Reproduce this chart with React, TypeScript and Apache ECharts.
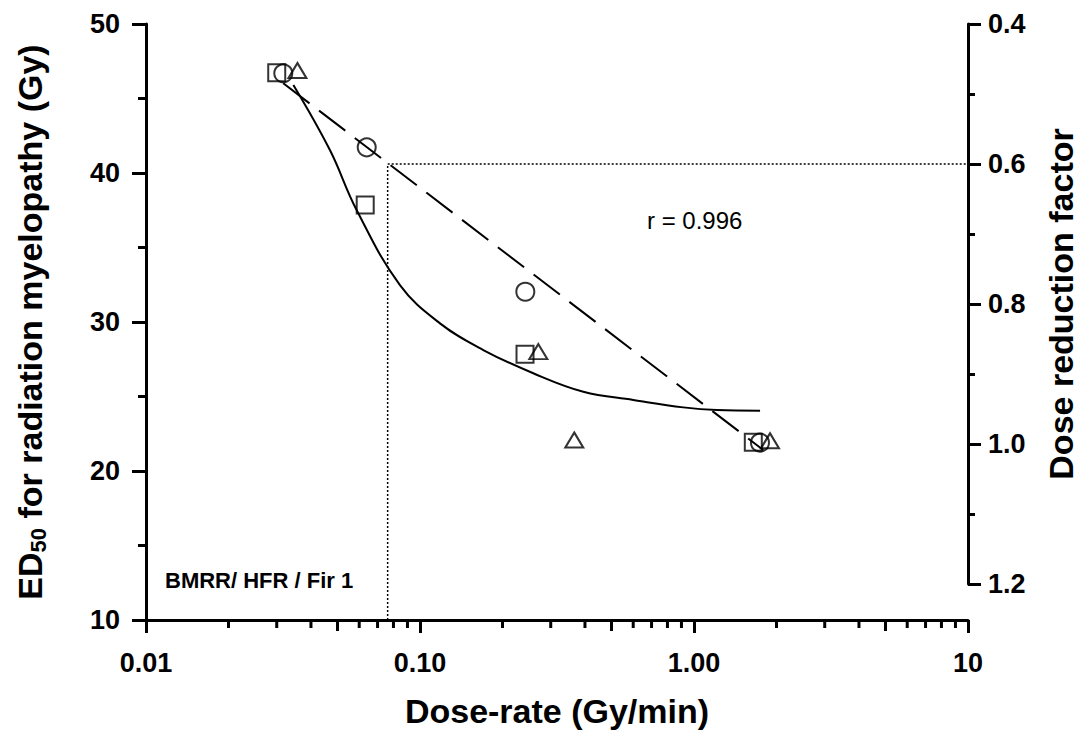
import React, { useEffect, useRef } from "react";
import * as echarts from "echarts";

// Measured ED50 values against dose-rate, three data sets (squares, circles, triangles)
const squareDoseRate = [0.03, 0.0631, 0.2417, 1.646];
const squareEd50 = [46.73, 37.85, 27.83, 21.93];
const circleDoseRate = [0.0317, 0.0639, 0.2423, 1.741];
const circleEd50 = [46.69, 41.72, 32.03, 21.9];
const triangleDoseRate = [0.0357, 0.2703, 0.3656, 1.894];
const triangleEd50 = [46.88, 28.01, 22.08, 22.03];

// Fitted curve (solid)
const curveDoseRate = [0.0345, 0.0469, 0.0587, 0.0845, 0.1183, 0.1702, 0.2591, 0.3945, 0.6004, 0.914, 1.211, 1.742];
const curveEd50 = [45.91, 41.54, 37.52, 32.48, 29.91, 28.12, 26.56, 25.32, 24.77, 24.27, 24.09, 24.05];

// Regression line (dashed), r = 0.996
const regressionDoseRate = [0.0317, 1.79];
const regressionEd50 = [46.02, 21.41];

// Dose-rate giving a dose reduction factor of 0.6
const guideDoseRate = 0.0762;
const guideEd50 = 40.6;

// Axis ranges and ticks
const xMin = 0.01;
const xMax = 10;
const yMin = 10;
const yMax = 50;
const drfMin = 0.4;
const drfMax = 1.2;
const xMinorTicks = [0.02, 0.03, 0.04, 0.06, 0.07, 0.08, 0.09, 0.2, 0.3, 0.4, 0.6, 0.7, 0.8, 0.9, 2, 3, 4, 6, 7, 8, 9];
const xMidTicks = [0.05, 0.5, 5];

const FONT = "'Liberation Sans', Arial, Helvetica, sans-serif";

const zip = (xs: number[], ys: number[]) => xs.map((x, i) => [x, ys[i]]);

export default function App() {
  const ref = useRef<HTMLDivElement>(null);

  useEffect(() => {
    if (!ref.current) return;
    const chart = echarts.init(ref.current, null, { renderer: "svg" });

    // short ticks hanging below the x axis at the given dose-rates
    const tickRenderer = (len: number) => (params: any, api: any) => {
      const p = api.coord([api.value(0), api.value(1)]);
      const cs = params.coordSys;
      const yb = cs.y + cs.height;
      return {
        type: "line",
        shape: { x1: p[0], y1: yb, x2: p[0], y2: yb + len },
        style: { stroke: "#000", lineWidth: 3 },
      };
    };

    const hollow = (symbol: string, size: any) => ({
      type: "scatter",
      symbol,
      symbolSize: size,
      itemStyle: { color: "rgba(0,0,0,0)", borderColor: "#000", borderWidth: 2 },
      z: 5,
    });

    const tickLabel = { fontFamily: FONT, fontWeight: "bold", fontSize: 27, color: "#000" };
    const titleText = { fontFamily: FONT, fontWeight: "bold", fontSize: 34, color: "#000" };

    const option: any = {
      animation: false,
      backgroundColor: "#fff",
      grid: [
        { left: 146, right: 123, top: 24, bottom: 118 },
        { left: 146, right: 123, top: 24, height: 560 },
      ],
      xAxis: [
        {
          type: "log",
          logBase: 10,
          min: xMin,
          max: xMax,
          gridIndex: 0,
          name: "Dose-rate (Gy/min)",
          nameLocation: "middle",
          nameGap: 74,
          nameTextStyle: titleText,
          axisLine: { lineStyle: { color: "#000", width: 3 } },
          axisTick: { length: 13, lineStyle: { color: "#000", width: 3 } },
          splitLine: { show: false },
          minorTick: { show: false },
          axisLabel: {
            ...tickLabel,
            margin: 29,
            formatter: (v: number) => (v >= 10 ? String(Math.round(v)) : v.toFixed(2)),
          },
        },
        { type: "log", logBase: 10, min: xMin, max: xMax, gridIndex: 1, show: false },
      ],
      yAxis: [
        {
          type: "value",
          min: yMin,
          max: yMax,
          interval: 10,
          gridIndex: 0,
          name: "{a|ED}{s|50}{a| for radiation myelopathy (Gy)}",
          nameLocation: "middle",
          nameRotate: 90,
          nameGap: 97,
          nameTextStyle: {
            rich: {
              a: { ...titleText, lineHeight: 38 },
              s: { fontFamily: FONT, fontWeight: "bold", fontSize: 22, color: "#000", lineHeight: 19, verticalAlign: "bottom" },
            },
          },
          axisLine: { show: true, lineStyle: { color: "#000", width: 3 } },
          axisTick: { show: true, length: 14, lineStyle: { color: "#000", width: 3 } },
          minorTick: { show: true, splitNumber: 2, length: 8, lineStyle: { color: "#000", width: 3 } },
          splitLine: { show: false },
          axisLabel: { ...tickLabel, margin: 26 },
        },
        {
          type: "value",
          gridIndex: 1,
          position: "right",
          inverse: true,
          min: drfMin,
          max: drfMax,
          interval: 0.2,
          name: "Dose reduction factor",
          nameLocation: "middle",
          nameRotate: 90,
          nameGap: 76,
          nameTextStyle: titleText,
          axisLine: { show: true, lineStyle: { color: "#000", width: 3 } },
          axisTick: { show: true, length: 13, lineStyle: { color: "#000", width: 3 } },
          minorTick: { show: true, splitNumber: 2, length: 7, lineStyle: { color: "#000", width: 3 } },
          splitLine: { show: false },
          axisLabel: {
            ...tickLabel,
            margin: 20,
            formatter: (v: number) => v.toFixed(1),
          },
        },
      ],
      graphic: [
        {
          type: "text",
          left: 647,
          top: 208,
          style: { text: "r = 0.996", fontFamily: FONT, fontSize: 24, fill: "#000" },
        },
        {
          type: "text",
          left: 165,
          top: 569,
          style: { text: "BMRR/ HFR / Fir 1", fontFamily: FONT, fontWeight: "bold", fontSize: 22, fill: "#000" },
        },
      ],
      series: [
        {
          type: "custom",
          xAxisIndex: 0,
          yAxisIndex: 0,
          clip: false,
          silent: true,
          renderItem: tickRenderer(8),
          data: xMinorTicks.map((v) => [v, yMin]),
        },
        {
          type: "custom",
          xAxisIndex: 0,
          yAxisIndex: 0,
          clip: false,
          silent: true,
          renderItem: tickRenderer(11),
          data: xMidTicks.map((v) => [v, yMin]),
        },
        {
          type: "line",
          data: [
            [guideDoseRate, yMin],
            [guideDoseRate, guideEd50],
            [xMax, guideEd50],
          ],
          symbol: "none",
          lineStyle: { color: "#000", width: 1.5, type: [2, 2] },
        },
        {
          type: "line",
          data: zip(regressionDoseRate, regressionEd50),
          symbol: "none",
          lineStyle: { color: "#000", width: 2, type: [33, 12] },
        },
        {
          type: "line",
          data: zip(curveDoseRate, curveEd50),
          symbol: "none",
          smooth: 0.4,
          lineStyle: { color: "#000", width: 2 },
        },
        { ...hollow("rect", 17), data: zip(squareDoseRate, squareEd50) },
        { ...hollow("circle", 18), data: zip(circleDoseRate, circleEd50) },
        { ...hollow("triangle", [18, 15]), data: zip(triangleDoseRate, triangleEd50) },
      ],
    };

    chart.setOption(option);
    return () => chart.dispose();
  }, []);

  return (
    <div
      ref={ref}
      style={{ position: "fixed", left: 0, top: 0, width: 1091, height: 738, background: "#fff" }}
    />
  );
}
